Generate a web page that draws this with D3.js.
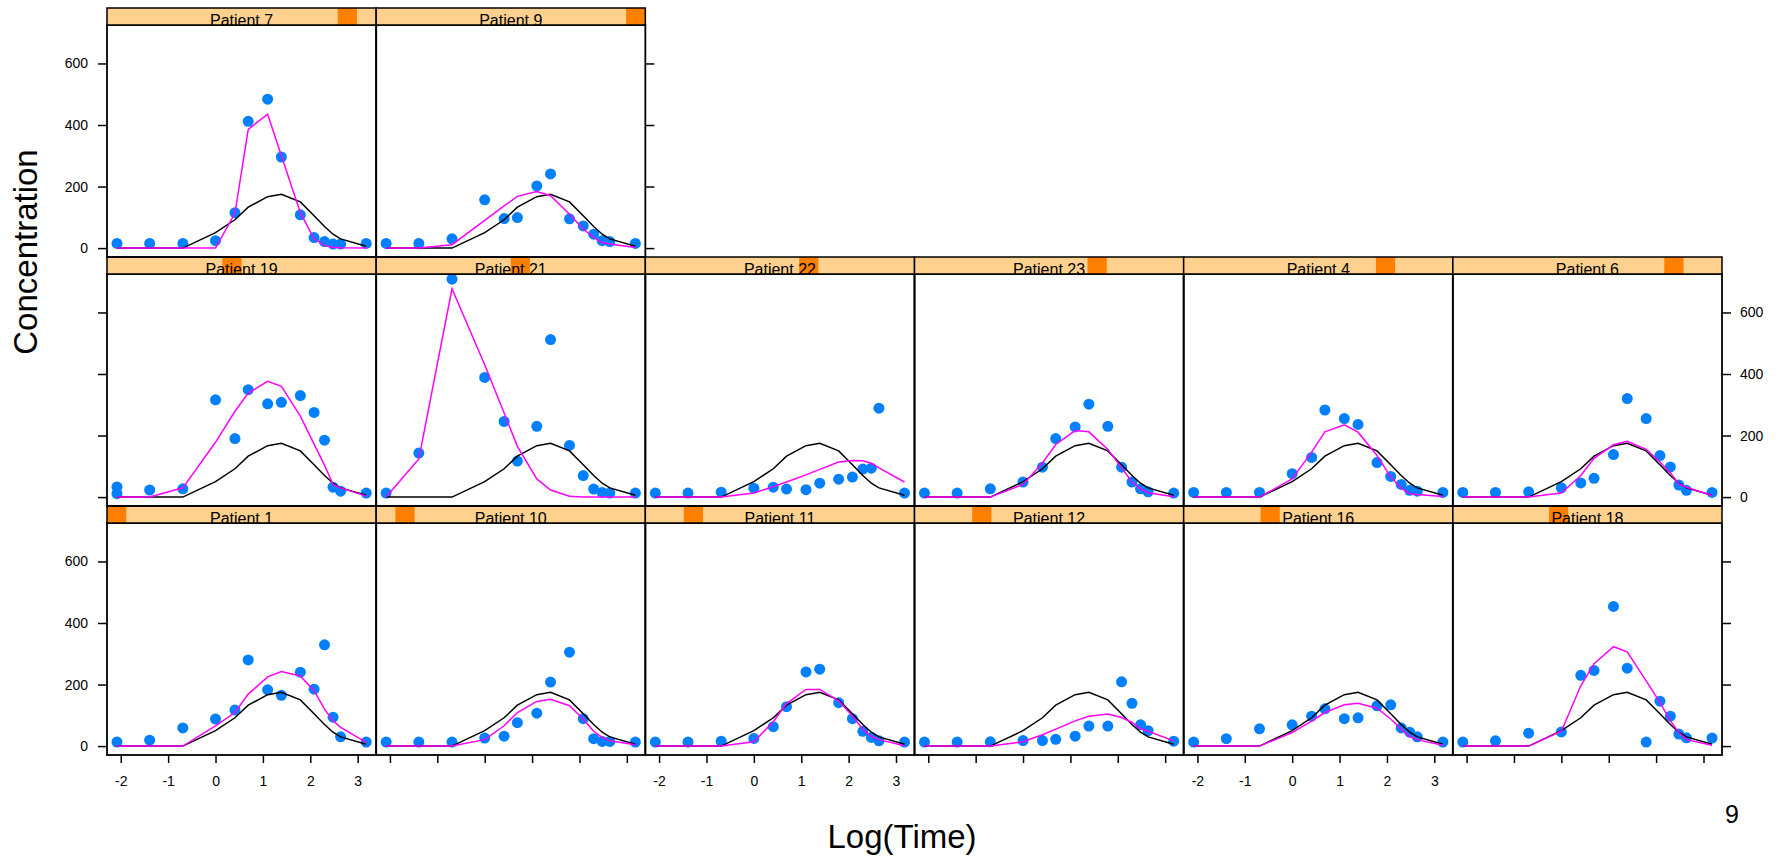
<!DOCTYPE html>
<html>
<head>
<meta charset="utf-8">
<script src="https://cdn.jsdelivr.net/npm/d3@7"></script>
<style>
  html, body { margin: 0; padding: 0; background: #fff; }
  svg { display: block; font-family: "Liberation Sans", Arial, sans-serif; }
</style>
</head>
<body>
<svg id="chart" width="1782" height="857"></svg>
<script>
// ---------------- data ----------------
const LOG_TIMES = [-2.08, -1.39, -0.69, 0, 0.41, 0.69, 1.10, 1.39, 1.79, 2.08, 2.30, 2.48, 2.64, 3.18];
const X_TICKS = [-2, -1, 0, 1, 2, 3];
const Y_TICKS = [0, 200, 400, 600];
const Y_LIMITS = [-29, 725];

// factor levels (strip order)
const PATIENTS = ["Patient 1", "Patient 10", "Patient 11", "Patient 12", "Patient 16", "Patient 18",
                  "Patient 19", "Patient 21", "Patient 22", "Patient 23", "Patient 4", "Patient 6",
                  "Patient 7", "Patient 9"];

// population (fixed-effects) prediction, same for every patient
const POP_FIT = [0, 0, 0, 50, 92, 133, 167, 175, 150, 105, 70, 45, 30, 6];

// observed concentrations
const OBS_P1  = [13, 19, 59, 88, 117, 280, 183, 165, 240, 185, 329, 94, 30, 13];
const OBS_P10 = [13, 13, 13, 26, 32, 76, 107, 208, 305, 89, 24, 15, 15, 13];
const OBS_P11 = [13, 13, 16, 25, 63, 128, 241, 250, 141, 89, 48, 28, 17, 13];
const OBS_P12 = [13, 13, 14, 18, 18, 22, 32, 65, 65, 209, 139, 69, 50, 16];
const OBS_P16 = [13, 24, 56, 69, 97, 121, 89, 92, 131, 134, 59, 45, 30, 13];
const OBS_P18 = [13, 17, 42, 46, 230, 246, 454, 253, 13, 146, 97, 39, 27, 26];
const OBS_P19 = [11, 23, 27, 316, 190, 349, 303, 308, 330, 275, 185, 32, 19, 13];
const OBS_P19_EXTRA = [[-2.08, 33]];
const OBS_P21 = [13, 143, 708, 389, 246, 117, 230, 512, 168, 70, 26, 15, 13, 13];
const OBS_P22 = [13, 13, 16, 29, 32, 26, 24, 45, 58, 65, 91, 94, 289, 13];
const OBS_P23 = [13, 13, 27, 49, 97, 190, 228, 302, 230, 97, 49, 27, 17, 13];
const OBS_P4  = [15, 15, 15, 76, 129, 283, 255, 236, 112, 67, 41, 22, 19, 15];
const OBS_P6  = [15, 15, 17, 30, 46, 61, 138, 320, 255, 135, 98, 39, 22, 15];
const OBS_P7  = [15, 15, 15, 24, 115, 412, 484, 296, 108, 34, 21, 13, 13, 15];
const OBS_P9  = [15, 15, 30, 157, 96, 99, 202, 241, 95, 72, 45, 24, 21, 15];

// individual (subject-specific) fits
const FIT_P1  = [0, 0, 0, 66, 109, 169, 225, 242, 228, 180, 120, 82, 61, 12];
const FIT_P10 = [0, 0, 0, 21, 66, 109, 145, 152, 131, 88, 48, 28, 17, 4];
const FIT_P11 = [0, 0, 0, 14, 79, 138, 184, 184, 147, 98, 55, 31, 21, 1];
const FIT_P12 = [0, 0, 0, 14, 37, 55, 82, 97, 104, 93, 77, 57, 48, 17];
const FIT_P16 = [0, 0, 0, 44, 81, 109, 134, 139, 123, 88, 55, 31, 21, 3];
const FIT_P18 = [0, 0, 0, 48, 196, 268, 323, 306, 212, 142, 82, 44, 21, 3];
const FIT_P19 = [0, 0, 30, 178, 279, 338, 376, 360, 263, 172, 104, 41, 30, 3];
const FIT_P21 = [0, 124, 677, 430, 273, 165, 59, 23, 3, 0, 0, 0, 0, 0];
const FIT_P22 = [0, 0, 0, 13, 34, 49, 72, 90, 114, 119, 118, 110, 95, 49];
const FIT_P23 = [0, 0, 0, 41, 111, 171, 216, 212, 155, 95, 49, 27, 14, 1];
const FIT_P4  = [0, 0, 0, 59, 146, 212, 235, 211, 135, 65, 29, 11, 8, 2];
const FIT_P6  = [0, 0, 0, 13, 70, 126, 170, 181, 155, 114, 79, 43, 32, 5];
const FIT_P7  = [0, 0, 0, 0, 113, 386, 435, 300, 115, 30, 8, 3, 1, 0];
const FIT_P9  = [0, 0, 11, 90, 137, 168, 184, 170, 110, 62, 35, 18, 13, 2];

const OBS = [OBS_P1, OBS_P10, OBS_P11, OBS_P12, OBS_P16, OBS_P18, OBS_P19, OBS_P21,
             OBS_P22, OBS_P23, OBS_P4, OBS_P6, OBS_P7, OBS_P9];
const FITS = [FIT_P1, FIT_P10, FIT_P11, FIT_P12, FIT_P16, FIT_P18, FIT_P19, FIT_P21,
              FIT_P22, FIT_P23, FIT_P4, FIT_P6, FIT_P7, FIT_P9];
const EXTRA = { "Patient 19": OBS_P19_EXTRA };

// ---------------- layout ----------------
const svg = d3.select("#chart");
const NCOL = 6;
const left = 107, right = 1722;
const colW = (right - left) / NCOL;
const rowTops = [506, 257, 8];       // bottom, middle, top row (row index from bottom)
const stripH = 17, panelH = 232;

const COL_LIGHT = "#ffd18f", COL_DARK = "#ff7f00";
const COL_PT = "#0080ff", COL_FIT = "#ff00ff";

// x domain with lattice-style 4% padding
const xr = d3.extent(LOG_TIMES);
const xpad = 0.04 * (xr[1] - xr[0]);
const x = d3.scaleLinear().domain([xr[0] - xpad, xr[1] + xpad]).range([0, colW]);
const y = d3.scaleLinear().domain(Y_LIMITS).range([panelH, 0]);

const defs = svg.append("defs");
defs.append("clipPath").attr("id", "pclip")
  .append("rect").attr("x", 0).attr("y", 0).attr("width", colW).attr("height", panelH);
defs.append("clipPath").attr("id", "sclip")
  .append("rect").attr("x", 0).attr("y", 0).attr("width", colW).attr("height", stripH);

const line = d3.line().x(d => x(d[0])).y(d => y(d[1]));
const plainFmt = d => String(d);   // ASCII hyphen-minus, as in the original
const noFmt = () => "";

PATIENTS.forEach((name, i) => {
  const row = Math.floor(i / NCOL), col = i % NCOL;
  const px = left + col * colW;
  const top = rowTops[row];
  const g = svg.append("g").attr("transform", `translate(${px},${top + stripH})`);

  const pg = g.append("g").attr("clip-path", "url(#pclip)");
  const popData = LOG_TIMES.map((t, k) => [t, POP_FIT[k]]);
  const fitData = LOG_TIMES.map((t, k) => [t, FITS[i][k]]);
  const obsData = LOG_TIMES.map((t, k) => [t, OBS[i][k]]).concat(EXTRA[name] || []);

  pg.selectAll("circle").data(obsData).enter().append("circle")
    .attr("cx", d => x(d[0])).attr("cy", d => y(d[1])).attr("r", 5.5)
    .attr("fill", COL_PT);
  pg.append("path").datum(popData).attr("d", line)
    .attr("fill", "none").attr("stroke", "#000").attr("stroke-width", 1.5);
  pg.append("path").datum(fitData).attr("d", line)
    .attr("fill", "none").attr("stroke", COL_FIT).attr("stroke-width", 1.5);

  g.append("rect").attr("x", 0).attr("y", 0).attr("width", colW).attr("height", panelH)
    .attr("fill", "none").attr("stroke", "#000").attr("stroke-width", 1.8);

  // strip
  const s = svg.append("g").attr("transform", `translate(${px},${top})`);
  const sc = s.append("g").attr("clip-path", "url(#sclip)");
  sc.append("rect").attr("width", colW).attr("height", stripH).attr("fill", COL_LIGHT);
  sc.append("rect").attr("x", colW * i / PATIENTS.length).attr("width", colW / PATIENTS.length)
    .attr("height", stripH).attr("fill", COL_DARK);
  sc.append("text").attr("x", colW / 2).attr("y", stripH + 0.5)
    .attr("text-anchor", "middle").attr("font-size", 16).attr("fill", "#000").text(name);
  s.append("rect").attr("width", colW).attr("height", stripH)
    .attr("fill", "none").attr("stroke", "#000").attr("stroke-width", 1.5);

  // axes
  const lastInRow = (col === NCOL - 1) || (i === PATIENTS.length - 1);
  const labelLeft = row % 2 === 0;
  if (col === 0) {
    const ax = d3.axisLeft(y).tickValues(Y_TICKS).tickSize(9).tickPadding(10)
      .tickFormat(labelLeft ? plainFmt : noFmt);
    styleAxis(g.append("g").call(ax));
  }
  if (lastInRow) {
    const ax = d3.axisRight(y).tickValues(Y_TICKS).tickSize(9).tickPadding(9)
      .tickFormat(!labelLeft ? plainFmt : noFmt);
    styleAxis(g.append("g").attr("transform", `translate(${colW},0)`).call(ax));
  }
  if (row === 0) {
    const ax = d3.axisBottom(x).tickValues(X_TICKS).tickSize(8).tickPadding(13)
      .tickFormat(col % 2 === 0 ? plainFmt : noFmt);
    styleAxis(g.append("g").attr("transform", `translate(0,${panelH})`).call(ax));
  }
});

function styleAxis(a) {
  a.select(".domain").remove();
  a.selectAll(".tick line").attr("stroke", "#000").attr("stroke-width", 1.5);
  a.selectAll(".tick text").attr("font-size", 14).attr("fill", "#000")
    .attr("font-family", "Liberation Sans, Arial, sans-serif");
}

// axis titles
svg.append("text").attr("x", 902).attr("y", 848).attr("text-anchor", "middle")
  .attr("font-size", 33).attr("fill", "#000").text("Log(Time)");
svg.append("text").attr("transform", "translate(37,252) rotate(-90)")
  .attr("text-anchor", "middle").attr("font-size", 33).attr("fill", "#000").text("Concentration");
svg.append("text").attr("x", 1732).attr("y", 823).attr("text-anchor", "middle")
  .attr("font-size", 25).attr("fill", "#000").text("9");
</script>
</body>
</html>
